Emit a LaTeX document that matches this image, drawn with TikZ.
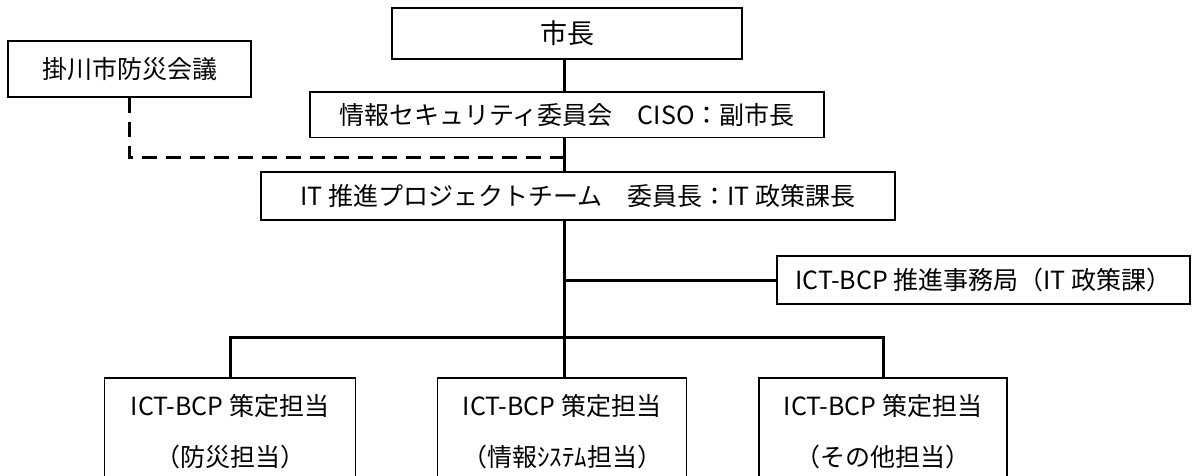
\documentclass[tikz,border=0pt]{standalone}
\usepackage{fontspec}
\setmainfont{Noto Sans CJK JP}
\begin{document}
\tikzset{
  box/.style={draw=black, line width=1.5pt, fill=white, inner sep=0pt, font=\fontsize{25}{30}\selectfont},
  lowbox/.style={box, align=center, font=\fontsize{25}{51}\selectfont},
  conn/.style={line width=3pt},
  dashln/.style={line width=3pt, dash pattern=on 15pt off 9pt},
}
\begin{tikzpicture}[x=1pt,y=-1pt]
\clip (0,0) rectangle (1192,475);
\fill[white] (0,0) rectangle (1192,475);
\coordinate (trunk) at (564,0);
\coordinate (dj) at (564,157);
\coordinate (bus) at (0,337);
% nodes
\node[box, minimum width=350pt, minimum height=51pt, font=\fontsize{27}{30}\selectfont] (mayor) at (567,33.5) {市長};
\node[box, minimum width=243pt, minimum height=56pt] (bousai) at (129.5,69) {掛川市防災会議};
\node[box, minimum width=514pt, minimum height=45.5pt] (sec) at (567,114.5) {情報セキュリティ委員会　CISO：副市長};
\node[box, minimum width=634pt, minimum height=48pt] (itpt) at (578,196) {IT 推進プロジェクトチーム　委員長：IT 政策課長};
\node[box, minimum width=413pt, minimum height=48pt] (jimu) at (983.5,280) {ICT-BCP 推進事務局（IT 政策課）};
\node[lowbox, minimum width=251pt, minimum height=108pt] (b1) at (230,432) {ICT-BCP 策定担当\\（防災担当）};
\node[lowbox, minimum width=249pt, minimum height=108pt] (b2) at (562,432) {ICT-BCP 策定担当\\（情報ｼｽﾃﾑ担当）};
\node[lowbox, minimum width=248pt, minimum height=108pt] (b3) at (883,432) {ICT-BCP 策定担当\\（その他担当）};
% connectors
\draw[conn] (trunk |- mayor.south) -- (trunk |- sec.north);
\draw[conn] (trunk |- sec.south) -- (trunk |- itpt.north);
\draw[conn] (trunk |- itpt.south) -- (trunk |- b2.north);
\draw[conn] (trunk |- jimu.west) -- (jimu.west);
\draw[conn] (b1.north) -- (b1.north |- bus) -- (b3.north |- bus) -- (b3.north);
\draw[dashln] (bousai.south) |- (dj);
\end{tikzpicture}
\end{document}
